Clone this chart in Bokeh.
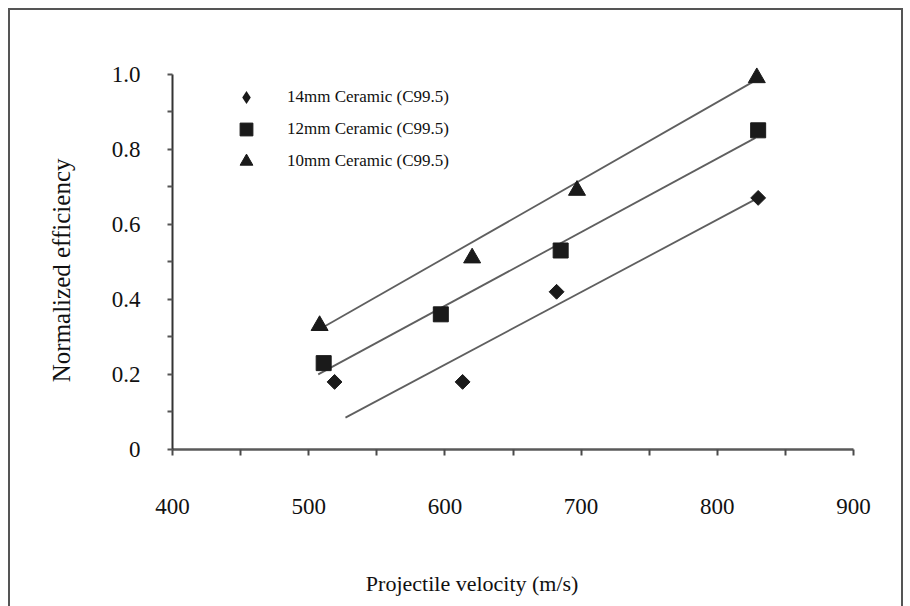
import numpy as np
from bokeh.plotting import figure
from bokeh.models import Range1d, FixedTicker, Legend, LegendItem, Label
from bokeh.embed import file_html
from bokeh.resources import INLINE

# Measured points: projectile velocity (m/s) vs normalized efficiency
velocity_14mm = [519, 613, 682, 830]
efficiency_14mm = [0.18, 0.18, 0.42, 0.67]
velocity_12mm = [511, 597, 685, 830]
efficiency_12mm = [0.23, 0.36, 0.53, 0.85]
velocity_10mm = [508, 620, 697, 829]
efficiency_10mm = [0.33, 0.51, 0.69, 0.99]

# Linear trend lines (start / end) for each ceramic thickness
trend_velocity_14mm = [527, 830]
trend_efficiency_14mm = [0.085, 0.67]
trend_velocity_12mm = [507, 828]
trend_efficiency_12mm = [0.20, 0.83]
trend_velocity_10mm = [508, 829]
trend_efficiency_10mm = [0.32, 0.985]

series_labels = ["14mm Ceramic (C99.5)", "12mm Ceramic (C99.5)", "10mm Ceramic (C99.5)"]

x_major_ticks = [400, 500, 600, 700, 800, 900]
x_minor_ticks = [450, 550, 650, 750, 850]
y_major_ticks = [0, 0.2, 0.4, 0.6, 0.8, 1.0]
y_minor_ticks = [0.1, 0.3, 0.5, 0.7, 0.9]
y_tick_labels = ["0", "0.2", "0.4", "0.6", "0.8", "1.0"]

x_title = "Projectile velocity (m/s)"
y_title = "Normalized efficiency"

FONT = "Liberation Serif"
INK = "#111111"
MARK = "#1a1a1a"
TREND = "#5f5f5f"

W, H = 910, 606
# axes box inside the page (pixels): left, right, baseline y = 0
AX_LEFT, AX_RIGHT, AX_ZERO = 172, 853, 449
PX_PER_X = (AX_RIGHT - AX_LEFT) / 500.0   # pixels per m/s
PX_PER_Y = 375.5                           # pixels per unit of efficiency

# thin page frame drawn around the whole figure (left, top, right edges)
frame_css = """
:host { position: relative; }
:host::after {
  content: "";
  position: absolute;
  left: 8px; top: 8px; width: 895px; height: 600px;
  box-sizing: border-box;
  border: 2px solid #555555;
  border-bottom: none;
  pointer-events: none;
  z-index: 10;
}
"""

# the plotting frame covers the whole page; both axes sit at fixed positions
x_range = Range1d(400 - AX_LEFT / PX_PER_X, 900 + (W - AX_RIGHT) / PX_PER_X)
y_range = Range1d(-(H - AX_ZERO) / PX_PER_Y, AX_ZERO / PX_PER_Y)

p = figure(width=W, height=H, output_backend="svg", toolbar_location=None,
           x_range=x_range, y_range=y_range,
           min_border=0, stylesheets=[frame_css])
p.outline_line_color = None
p.background_fill_color = "white"
p.border_fill_color = "white"
p.xgrid.visible = False
p.ygrid.visible = False

# x axis on the y = 0 baseline
xa = p.xaxis[0]
xa.fixed_location = 0
xa.ticker = FixedTicker(ticks=x_major_ticks, minor_ticks=x_minor_ticks)
xa.bounds = (400, 900)
xa.axis_line_color = "#5a5a5a"
xa.axis_line_width = 2.5
xa.major_tick_line_color = "#4a4a4a"
xa.minor_tick_line_color = "#4a4a4a"
xa.major_tick_line_width = 2
xa.minor_tick_line_width = 2
xa.major_tick_in = 0
xa.major_tick_out = 6
xa.minor_tick_in = 0
xa.minor_tick_out = 6
xa.major_label_standoff = 43
xa.major_label_text_font = FONT
xa.major_label_text_font_size = "23px"
xa.major_label_text_color = INK

# y axis on the x = 400 line
ya = p.yaxis[0]
ya.fixed_location = 400
ya.ticker = FixedTicker(ticks=y_major_ticks, minor_ticks=y_minor_ticks)
ya.major_label_overrides = {t: s for t, s in zip(y_major_ticks, y_tick_labels)}
ya.bounds = (0, 1.0)
ya.axis_line_color = "#333333"
ya.axis_line_width = 2
ya.major_tick_line_color = "#555555"
ya.minor_tick_line_color = "#555555"
ya.major_tick_line_width = 2
ya.minor_tick_line_width = 2
ya.major_tick_in = 0
ya.major_tick_out = 5
ya.minor_tick_in = 0
ya.minor_tick_out = 5
ya.major_label_standoff = 27
ya.major_label_text_font = FONT
ya.major_label_text_font_size = "23px"
ya.major_label_text_color = INK

# axis titles
p.add_layout(Label(x=620, y=-0.357, text=x_title, text_font=FONT,
                   text_font_size="22px", text_color=INK,
                   text_align="center", text_baseline="alphabetic"))
p.add_layout(Label(x=318.5, y=0.477, text=y_title, text_font=FONT,
                   text_font_size="25px", text_color=INK, angle=np.pi / 2,
                   text_align="center", text_baseline="middle"))

# trend lines
for xs, ys in [(trend_velocity_14mm, trend_efficiency_14mm),
               (trend_velocity_12mm, trend_efficiency_12mm),
               (trend_velocity_10mm, trend_efficiency_10mm)]:
    p.line(xs, ys, line_color=TREND, line_width=1.8)

# data markers
p.scatter(velocity_14mm, efficiency_14mm, marker="square", angle=np.pi / 4,
          size=10.5, fill_color=MARK, line_color=MARK)
r12 = p.scatter(velocity_12mm, efficiency_12mm, marker="square",
                size=15, fill_color=MARK, line_color=MARK)
r10 = p.scatter(velocity_10mm, efficiency_10mm, marker="triangle",
                size=17, fill_color=MARK, line_color=MARK)
# legend key for the diamond series (legend keys are drawn unrotated)
key14 = p.scatter(velocity_14mm, efficiency_14mm, marker="diamond", size=0,
                  fill_color=MARK, line_color=None)

legend = Legend(items=[LegendItem(label=series_labels[0], renderers=[key14]),
                       LegendItem(label=series_labels[1], renderers=[r12]),
                       LegendItem(label=series_labels[2], renderers=[r10])],
                location=(230, 429), margin=0, padding=0, spacing=0,
                glyph_width=32, glyph_height=32, label_height=32,
                label_standoff=25,
                label_text_font=FONT, label_text_font_size="17px",
                label_text_color=INK,
                border_line_color=None, background_fill_alpha=0)
p.add_layout(legend, "center")

open("out.html", "w").write(file_html(p, INLINE))
